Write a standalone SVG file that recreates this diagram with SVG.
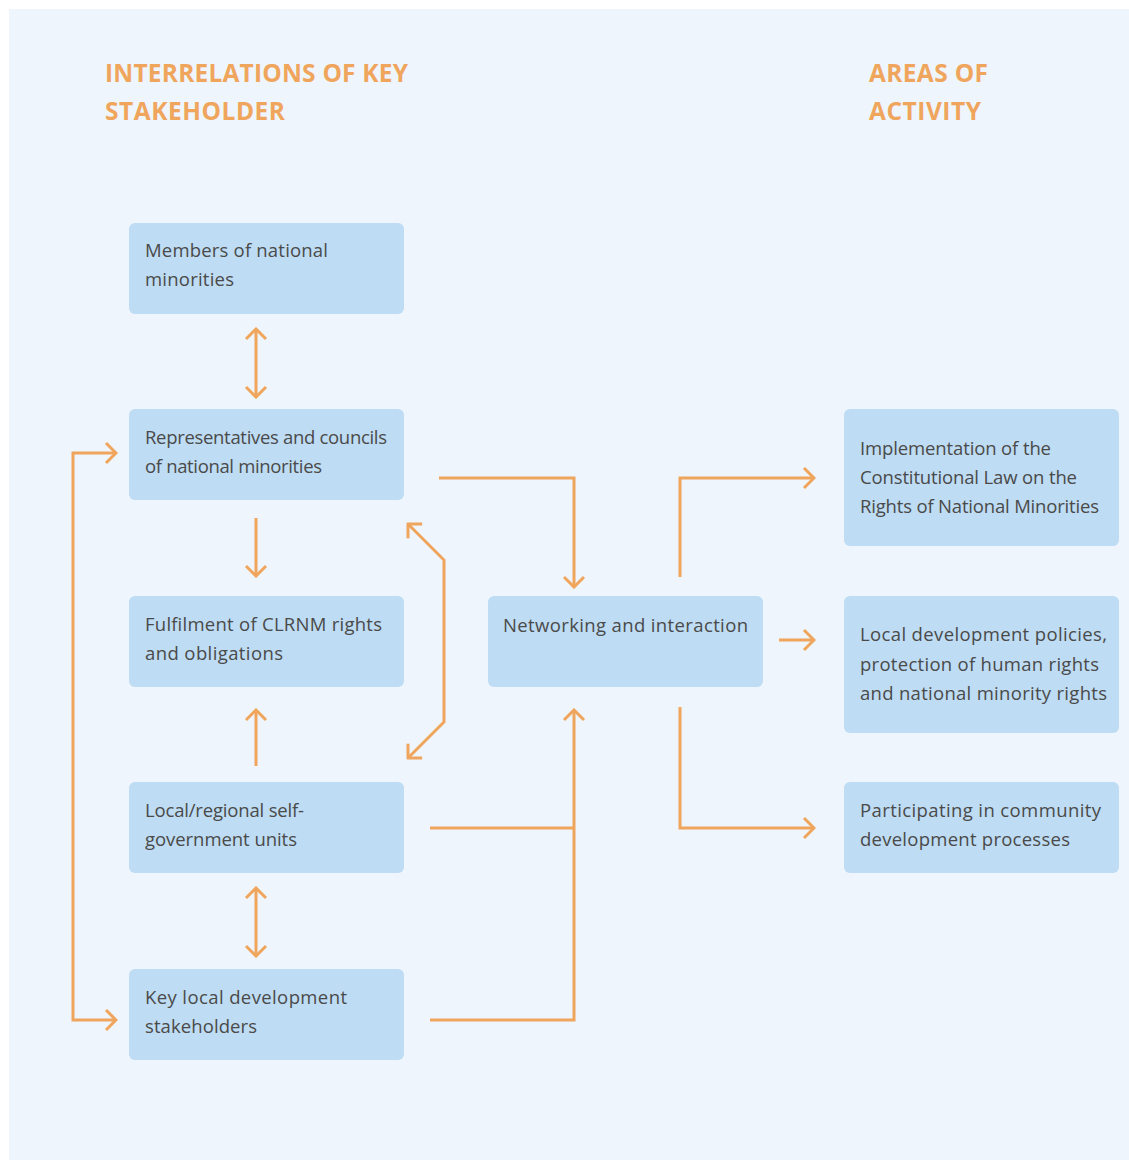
<svg xmlns="http://www.w3.org/2000/svg" width="1129" height="1160" viewBox="0 0 1129 1160">
<defs>
<style>
.bg{fill:#EEF5FC}
.box{fill:#BEDCF3}
.t{font-family:"Open Sans","Liberation Sans",sans-serif;font-size:18.5px;fill:#4A4A4A}
.h{font-family:"Open Sans","Liberation Sans",sans-serif;font-size:24.5px;font-weight:bold;fill:#F0A55C}
.c{fill:none;stroke:#F0A55C;stroke-width:3}
</style>
<marker id="ah" viewBox="-12 -12 14 24" markerWidth="14" markerHeight="24" refX="0" refY="0" markerUnits="userSpaceOnUse" orient="auto-start-reverse">
<path d="M-10,-10 L0,0 L-10,10" fill="none" stroke="#F0A55C" stroke-width="3"/>
</marker>
</defs>
<rect class="bg" x="9" y="9" width="1120" height="1151"/>
<g id="titles">
<text class="h" x="105" y="82" textLength="303">INTERRELATIONS OF KEY</text>
<text class="h" x="105" y="120" textLength="180">STAKEHOLDER</text>
<text class="h" x="869" y="82" textLength="119">AREAS OF</text>
<text class="h" x="869" y="120" textLength="112">ACTIVITY</text>
</g>
<g id="n1"><rect class="box" x="129" y="223" width="275" height="91" rx="6"/>
<text class="t" x="145" y="257" textLength="183">Members of national</text><text class="t" x="145" y="286" textLength="89">minorities</text></g>
<g id="n2"><rect class="box" x="129" y="409" width="275" height="91" rx="6"/>
<text class="t" x="145" y="444" textLength="242">Representatives and councils</text><text class="t" x="145" y="473" textLength="177">of national minorities</text></g>
<g id="n3"><rect class="box" x="129" y="596" width="275" height="91" rx="6"/>
<text class="t" x="145" y="631" textLength="237">Fulfilment of CLRNM rights</text><text class="t" x="145" y="660" textLength="138">and obligations</text></g>
<g id="n4"><rect class="box" x="129" y="782" width="275" height="91" rx="6"/>
<text class="t" x="145" y="817" textLength="159">Local/regional self-</text><text class="t" x="145" y="846" textLength="152">government units</text></g>
<g id="n5"><rect class="box" x="129" y="969" width="275" height="91" rx="6"/>
<text class="t" x="145" y="1004" textLength="202">Key local development</text><text class="t" x="145" y="1033" textLength="112">stakeholders</text></g>
<g id="n6"><rect class="box" x="488" y="596" width="275" height="91" rx="6"/>
<text class="t" x="503" y="632" textLength="245">Networking and interaction</text></g>
<g id="n7"><rect class="box" x="844" y="409" width="275" height="137" rx="6"/>
<text class="t" x="860" y="455" textLength="191">Implementation of the</text><text class="t" x="860" y="484" textLength="217">Constitutional Law on the</text><text class="t" x="860" y="513" textLength="239">Rights of National Minorities</text></g>
<g id="n8"><rect class="box" x="844" y="596" width="275" height="137" rx="6"/>
<text class="t" x="860" y="641" textLength="247">Local development policies,</text><text class="t" x="860" y="671" textLength="239">protection of human rights</text><text class="t" x="860" y="700" textLength="247">and national minority rights</text></g>
<g id="n9"><rect class="box" x="844" y="782" width="275" height="91" rx="6"/>
<text class="t" x="860" y="817" textLength="241">Participating in community</text><text class="t" x="860" y="846" textLength="210">development processes</text></g>
<g id="connectors">
<path class="c" d="M256,329 L256,397" marker-start="url(#ah)" marker-end="url(#ah)"/>
<path class="c" d="M256,518 L256,576" marker-end="url(#ah)"/>
<path class="c" d="M256,766 L256,710" marker-end="url(#ah)"/>
<path class="c" d="M256,888 L256,956" marker-start="url(#ah)" marker-end="url(#ah)"/>
<path class="c" d="M116,453 L73,453 L73,1020 L116,1020" marker-start="url(#ah)" marker-end="url(#ah)"/>
<path class="c" d="M408,524 L444,560 L444,722 L408,758" marker-start="url(#ah)" marker-end="url(#ah)"/>
<path class="c" d="M439,478 L574,478 L574,587" marker-end="url(#ah)"/>
<path class="c" d="M430,828 L574,828"/>
<path class="c" d="M430,1020 L574,1020 L574,710" marker-end="url(#ah)"/>
<path class="c" d="M680,577 L680,478 L814,478" marker-end="url(#ah)"/>
<path class="c" d="M779,640 L814,640" marker-end="url(#ah)"/>
<path class="c" d="M680,707 L680,828 L814,828" marker-end="url(#ah)"/>
</g>
</svg>
